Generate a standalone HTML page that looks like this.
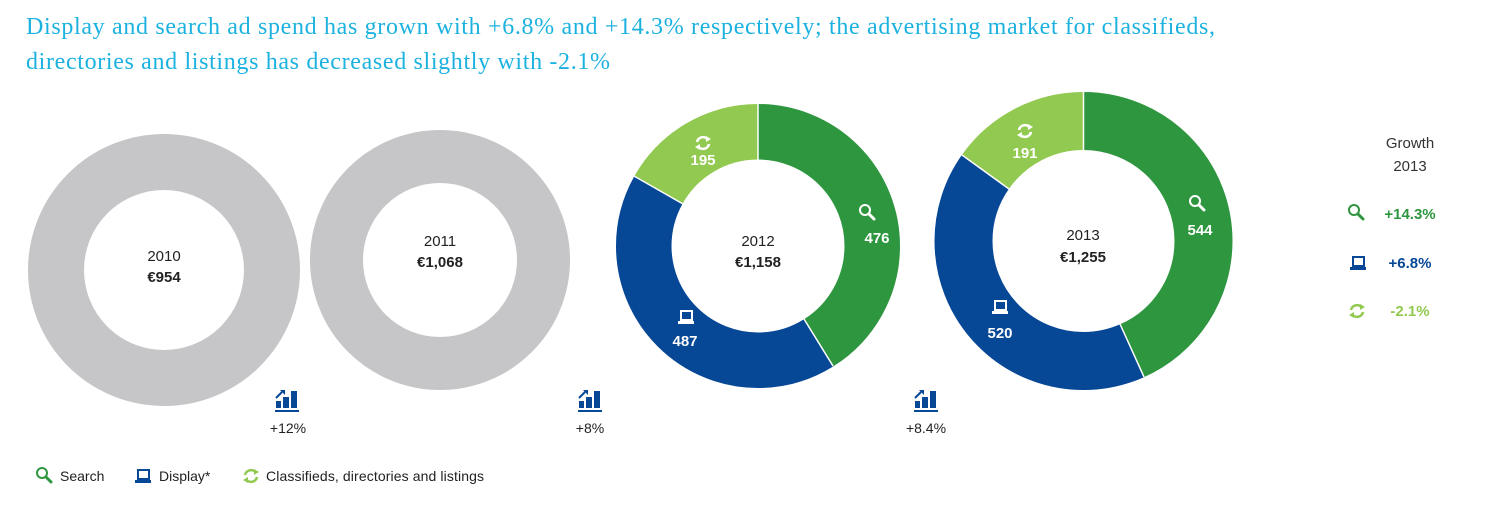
<!DOCTYPE html>
<html><head><meta charset="utf-8"><style>
body{margin:0;background:#fff;}
svg{display:block;font-family:"Liberation Sans","DejaVu Sans",sans-serif;}
</style></head><body>
<svg width="1485" height="506" viewBox="0 0 1485 506" xmlns="http://www.w3.org/2000/svg">
<defs>
<g id="mag"><circle cx="-2" cy="-2" r="5" fill="none" stroke="currentColor" stroke-width="2"/><line x1="2" y1="2" x2="7" y2="7" stroke="currentColor" stroke-width="3" stroke-linecap="round"/></g>
<g id="lap"><rect x="-5" y="-7" width="11" height="9" fill="none" stroke="currentColor" stroke-width="2"/><path d="M-8 3 L8 3 L8 6 L-8 6 Z" fill="currentColor"/></g>
<g id="ref"><path d="M-6 -1 A6 6 0 0 1 5 -3" fill="none" stroke="currentColor" stroke-width="2.6"/><path d="M6 1 A6 6 0 0 1 -5 3" fill="none" stroke="currentColor" stroke-width="2.6"/><path d="M3 -7 L8 -4 L3 -1Z" fill="currentColor"/><path d="M-3 7 L-8 4 L-3 1Z" fill="currentColor"/></g>
<g id="bars"><rect x="-13" y="0" width="5" height="7" fill="#064796"/><rect x="-6" y="-4" width="6" height="11" fill="#064796"/><rect x="2" y="-10" width="6" height="17" fill="#064796"/><rect x="-14" y="9" width="24" height="2" fill="#064796"/><path d="M-13 -3 L-7 -9" stroke="#064796" stroke-width="2"/><path d="M-9 -11 L-4 -11 L-4 -6Z" fill="#064796"/></g>
</defs>
<text x="26" y="34" font-family="Liberation Serif,serif" font-size="24" fill="#1cb2e0" textLength="1189" lengthAdjust="spacing">Display and search ad spend has grown with +6.8% and +14.3% respectively; the advertising market for classifieds,</text>
<text x="26" y="69" font-family="Liberation Serif,serif" font-size="24" fill="#1cb2e0" textLength="584" lengthAdjust="spacing">directories and listings has decreased slightly with -2.1%</text>

<circle cx="164" cy="270" r="108" fill="none" stroke="#c6c6c8" stroke-width="56"/>
<text x="164" y="261" text-anchor="middle" font-size="15" fill="#222">2010</text>
<text x="164" y="282" text-anchor="middle" font-size="15" font-weight="bold" fill="#222">€954</text>
<circle cx="440" cy="260" r="103.5" fill="none" stroke="#c6c6c8" stroke-width="53"/>
<text x="440" y="246" text-anchor="middle" font-size="15" fill="#222">2011</text>
<text x="440" y="267" text-anchor="middle" font-size="15" font-weight="bold" fill="#222">€1,068</text>

<g transform="rotate(-90 758 246)">
<circle cx="758" cy="246" r="114.25" fill="none" stroke="#2e963e" stroke-width="55.5" pathLength="100" stroke-dasharray="41.1 58.9"/>
<circle cx="758" cy="246" r="114.25" fill="none" stroke="#064796" stroke-width="55.5" pathLength="100" stroke-dasharray="0 41.1 42.06 16.84"/>
<circle cx="758" cy="246" r="114.25" fill="none" stroke="#92c950" stroke-width="55.5" pathLength="100" stroke-dasharray="0 83.16 16.84 0"/>
</g>
<g stroke="#fff" stroke-width="1.5"><line x1="758" y1="104" x2="758" y2="160"/><line x1="833" y1="366" x2="804" y2="319"/><line x1="634" y1="176" x2="683" y2="204"/></g>
<text x="758" y="246" text-anchor="middle" font-size="15" fill="#222">2012</text>
<text x="758" y="267" text-anchor="middle" font-size="15" font-weight="bold" fill="#222">€1,158</text>
<use href="#mag" x="867" y="212" style="color:#fff"/><text x="877" y="243" text-anchor="middle" font-size="15" font-weight="bold" fill="#fff">476</text>
<use href="#ref" x="703" y="143" style="color:#fff"/><text x="703" y="165" text-anchor="middle" font-size="15" font-weight="bold" fill="#fff">195</text>
<use href="#lap" x="686" y="318" style="color:#fff"/><text x="685" y="346" text-anchor="middle" font-size="15" font-weight="bold" fill="#fff">487</text>

<g transform="rotate(-90 1083.5 241)">
<circle cx="1083.5" cy="241" r="120" fill="none" stroke="#2e963e" stroke-width="58" pathLength="100" stroke-dasharray="43.35 56.65"/>
<circle cx="1083.5" cy="241" r="120" fill="none" stroke="#064796" stroke-width="58" pathLength="100" stroke-dasharray="0 43.35 41.43 15.22"/>
<circle cx="1083.5" cy="241" r="120" fill="none" stroke="#92c950" stroke-width="58" pathLength="100" stroke-dasharray="0 84.78 15.22 0"/>
</g>
<g stroke="#fff" stroke-width="1.5"><line x1="1083.5" y1="92" x2="1083.5" y2="150"/><line x1="1144" y1="377" x2="1120" y2="324"/><line x1="962" y1="155" x2="1009" y2="189"/></g>
<text x="1083" y="240" text-anchor="middle" font-size="15" fill="#222">2013</text>
<text x="1083" y="262" text-anchor="middle" font-size="15" font-weight="bold" fill="#222">€1,255</text>
<use href="#mag" x="1197" y="203" style="color:#fff"/><text x="1200" y="235" text-anchor="middle" font-size="15" font-weight="bold" fill="#fff">544</text>
<use href="#ref" x="1025" y="131" style="color:#fff"/><text x="1025" y="158" text-anchor="middle" font-size="15" font-weight="bold" fill="#fff">191</text>
<use href="#lap" x="1000" y="308" style="color:#fff"/><text x="1000" y="338" text-anchor="middle" font-size="15" font-weight="bold" fill="#fff">520</text>

<use href="#bars" x="289" y="401"/><text x="288" y="433" text-anchor="middle" font-size="14" fill="#222">+12%</text>
<use href="#bars" x="592" y="401"/><text x="590" y="433" text-anchor="middle" font-size="14" fill="#222">+8%</text>
<use href="#bars" x="928" y="401"/><text x="926" y="433" text-anchor="middle" font-size="14" fill="#222">+8.4%</text>

<use href="#mag" x="44" y="475" style="color:#2e963e"/><text x="60" y="481" font-size="14" fill="#222">Search</text>
<use href="#lap" x="143" y="477" style="color:#064796"/><text x="159" y="481" font-size="14" fill="#222">Display*</text>
<use href="#ref" x="251" y="476" style="color:#92c950"/><text x="266" y="481" font-size="14" fill="#222" textLength="218" lengthAdjust="spacing">Classifieds, directories and listings</text>

<text x="1410" y="148" text-anchor="middle" font-size="15" fill="#333">Growth</text>
<text x="1410" y="171" text-anchor="middle" font-size="15" fill="#333">2013</text>
<use href="#mag" x="1356" y="212" style="color:#2e963e"/><text x="1410" y="219" text-anchor="middle" font-size="15" font-weight="bold" fill="#2e963e">+14.3%</text>
<use href="#lap" x="1358" y="264" style="color:#064796"/><text x="1410" y="268" text-anchor="middle" font-size="15" font-weight="bold" fill="#064796">+6.8%</text>
<use href="#ref" x="1357" y="311" style="color:#92c950"/><text x="1410" y="316" text-anchor="middle" font-size="15" font-weight="bold" fill="#92c950">-2.1%</text>
</svg>
</body></html>
